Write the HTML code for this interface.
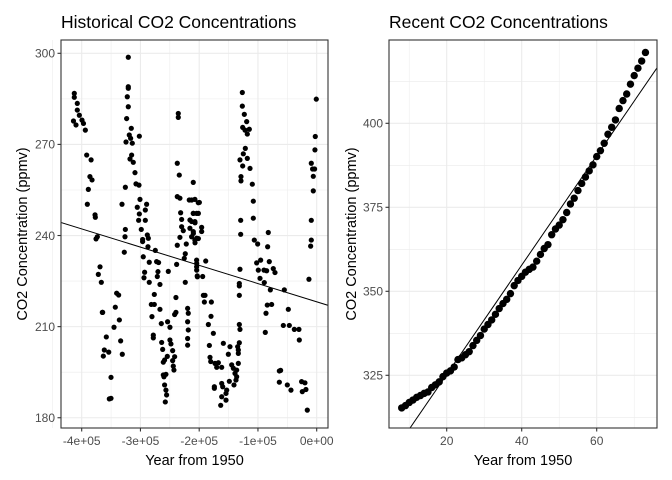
<!DOCTYPE html>
<html><head><meta charset="utf-8"><style>
html,body{margin:0;padding:0;background:#fff;}
svg{display:block;font-family:"Liberation Sans",Arial,sans-serif;}
</style></head><body>
<svg id="chart" width="672" height="480" viewBox="0 0 672 480">
<defs>
<clipPath id="clipL"><rect x="61" y="40" width="267" height="388"/></clipPath>
<clipPath id="clipR"><rect x="389" y="40" width="268" height="388"/></clipPath>
</defs>
<g id="gL"></g>
<g id="gR"></g>
</svg>
<script>
// Historical data (years before 1950, in thousands) and CO2 ppmv
const histYearK = [-412.6,-412.6,-407.5,-407.5,-404,-414,-409.7,-399.5,-397,-393.8,
-391.5,-384,-386,-382.4,-388.7,-390.4,-377.3,-376.8,-373.4,-375.6,-368.8,-371.7,-366.6,-364.9,-358.1,-361.5,-363.2,-354,-350.1,-353,-350.1,
-320.7,-320.7,-320.7,-322.4,-320.7,-323.5,-315.6,-319,-316.7,-324.6,-313.9,-301.9,-315,-317.8,-312.2,-309.3,-325.7,-307.6,-302.5,-331.4,-300.8,-305.4,-289.5,-291.7,-301.9,-303.1,-291.7,-325.7,-298.6,-326.3,-296.3,-296.3,-288.3,-286.6,-327.5,-287.2,-295.2,-285,-272.5,-269.1,-274.7,-292.9,-270.2,-294,-271.3,-285,-266.8,
-340.5,-337.1,-342.8,-335.9,-345,-333.7,-330.9,-364.3,-276.4,-252.6,-281.5,-276.4,-266.8,-280.4,-264.5,-253.8,-249.8,-278.1,-278.1,-263.9,-249.8,-248.1,-262.2,-245.2,-254.3,-258.9,-261.1,-241.8,-245.2,-244.1,-243,-261.1,-256.6,-260,-258.9,-256.6,-255.5,-257.7,
-239.6,-241.8,-239.6,-238.4,-237.3,-223.7,-225.4,-222,-223.7,-235.6,-235.6,-237.3,-233.9,-237.3,-232.8,-210.1,-216.9,-207.3,-201.6,
-231.6,-210.1,-204.4,-229.9,-215.8,-207.3,-229.9,-215.8,-210.1,-227.1,-212.9,-207.3,-232.8,-219.7,-218.6,-219.7,-218.6,-219.7,-219.7,-204.4,-204.4,-203.3,
-212.8,-199.7,-209.9,-201.4,-212.8,-207.1,-195.8,-195.8,-209.9,-204.3,-207.1,-201.4,-188.9,-204.3,-204.3,-203.1,-194.1,
-192.9,-190.1,-191.2,-179.3,-179.9,-184.4,-175.9,
-182.7,-181.6,-180.4,-173.1,-167.4,-170.2,-161.7,-158.9,-150.4,-147.6,-174.2,-174.2,-161.7,-160,-153.2,-154.4,-161.7,-154.4,-163.4,-148.7,
-144.7,-141.9,-139.1,-136.2,-137.4,-140.8,-136.2,-133.4,-133.4,-134.5,-131.7,-133.4,-130.6,-131.7,-131.7,-131.7,-131.7,-130.6,-129.4,-129.4,
-126.6,-126.6,-123.2,-119.2,-126,-122,-118.1,-114.7,-121.5,-124.9,-118.1,-130.6,-126,-113.5,-128.9,-128.9,-109.6,-107.9,-107.9,-106.2,-100.5,-102.2,-95.4,-99.4,-96.5,-89.7,-85.2,-80.7,-73.9,-71,-89.2,-78.9,-83.5,-82.4,-84.1,-76.7,-86.3,-87.5,
-55.1,-48.3,-56.8,-46.6,-38.1,-30.2,-29.6,
-63.6,-61.4,-63.6,-50,-43.8,-25.7,-20,-24.5,-18.3,-16,
-0.7,-2.4,-3,-9.2,-7,-3.6,-5.8,-5.8,-9.2,-9.2,-10.3,-13.2];
const histCO2 = [286.8,285.5,283.5,281.3,279.6,277.7,276.4,278,276.9,274.7,
266.5,264.9,259.4,258.3,255.2,250.3,246.8,246,239.6,238.9,229.7,227.2,224.6,214.7,206.6,202.3,200.3,201.6,193.3,186.2,186.4,
298.7,289,288.5,285.7,282.4,278.5,275.3,273.1,272,270.8,270.4,272.7,266.5,265.2,264.1,260.7,255.9,257,256.6,250.3,251.9,249.3,250.3,248.4,247.1,245,245,242,242,239.6,238.7,238,240.2,239.1,234.5,236.3,233,231.2,231.4,231.1,235.1,227.9,228.1,226.1,226.5,224.6,223.9,
221,220.4,216.4,212.2,209.8,205.3,200.9,214.7,220.6,228.2,217.3,217.3,215.7,213.3,211,211.6,209.8,207.2,206.3,204.8,205.6,204.3,202.5,202.1,200.2,199,198.3,200.1,198.8,197,195.7,194.1,194.3,193.5,190.8,189.1,187.5,185.2,
214.7,214,219.6,230.5,236.8,234,232.5,237.2,224.6,280.2,278.9,263.8,259.9,252.8,252.3,257.5,251.7,251.9,250.8,
247.5,247.3,247.3,245.3,245.1,244.6,242.9,242.4,241.3,241.6,239.6,238.5,239.4,216,214.4,211.6,208.9,206.1,203.9,231.9,229.7,226.7,
251.7,250.9,247.3,247.3,244.6,244.2,242.7,241.3,240.7,239.1,237.6,239,231.6,230.8,228.6,226.4,226.5,
220.3,220.3,218.1,218.1,213.4,210.7,207.8,
203.8,199.9,198.5,197.9,198.1,196.6,196.6,204.5,200.9,203.4,190.2,189.7,191.3,190.2,189.1,188,186.9,185.8,184.1,192,
197.4,196.3,194.6,193.5,192.4,190.8,195.7,197.9,201.2,203.4,204.7,202.3,209.1,210.7,220.3,223.4,224.2,228.9,240.4,245,
287.1,282.6,279.9,277.5,275.6,274.7,273.4,275,268.7,266.9,265.4,264.9,262.9,262.1,259.4,258,256.9,251.3,245.7,238.5,237.2,231,231.9,228.6,225.9,228.6,228.4,231.4,229.1,227.8,224.5,222.1,236.3,241,217.1,217.3,214.4,208.1,
222.1,215.7,210.4,210.4,209.1,209.1,205.6,
195.4,195.6,191.7,190.8,189.1,191.9,191.5,188.6,189.3,182.5,
284.9,272.6,268.2,263.8,261.9,261.9,259.5,254.7,245,238.5,236.5,225.6];
const histXTicks = [-400000,-300000,-200000,-100000,0];
const histXTickLabels = ["-4e+05","-3e+05","-2e+05","-1e+05","0e+00"];
const histYTicks = [180,210,240,270,300];

// Recent data: years from 1950, CO2 ppmv
const recentYear = [];
for (let y = 8; y <= 73; y++) recentYear.push(y);
const recentCO2 = [315.3,315.98,316.91,317.64,318.45,318.99,319.62,320.04,321.37,322.18,323.05,324.62,325.68,326.32,327.46,329.68,330.19,331.12,332.03,333.84,335.41,336.84,338.76,340.12,341.48,343.15,344.87,346.35,347.61,349.31,351.69,353.2,354.45,355.7,356.54,357.21,358.96,360.97,362.74,363.88,366.84,368.54,369.71,371.32,373.45,375.98,377.7,379.98,382.09,384.02,385.83,387.64,390.1,391.85,394.06,396.74,398.81,401.01,404.41,406.76,408.72,411.65,414.21,416.41,418.53,421.08];
const recentXTicks = [20,40,60];
const recentYTicks = [325,350,375,400];

const NS = "http://www.w3.org/2000/svg";
function mk(tag, attrs, parent){const e=document.createElementNS(NS,tag);for(const k in attrs)e.setAttribute(k,attrs[k]);parent.appendChild(e);return e;}
function fit(xs, ys){const n=xs.length;let mx=0,my=0;for(let i=0;i<n;i++){mx+=xs[i];my+=ys[i];}mx/=n;my/=n;let sxy=0,sxx=0;for(let i=0;i<n;i++){sxy+=(xs[i]-mx)*(ys[i]-my);sxx+=(xs[i]-mx)**2;}const b=sxy/sxx;return {a:my-b*mx,b:b};}

function panel(g, o){
  const {x0,x1,y0,y1,sx,sy,xt,xtl,yt,xMinor,yMinor,xs,ys,clip,title,r} = o;
  xMinor.forEach(v=>{const l=mk("line",{x1:sx(v),x2:sx(v),y1:y0,y2:y1,stroke:"#ebebeb","stroke-width":0.55},g);});
  yMinor.forEach(v=>{const l=mk("line",{x1:x0,x2:x1,y1:sy(v),y2:sy(v),stroke:"#ebebeb","stroke-width":0.55},g);});
  xt.forEach(v=>{const l=mk("line",{x1:sx(v),x2:sx(v),y1:y0,y2:y1,stroke:"#ebebeb","stroke-width":1.1},g);});
  yt.forEach(v=>{const l=mk("line",{x1:x0,x2:x1,y1:sy(v),y2:sy(v),stroke:"#ebebeb","stroke-width":1.1},g);});
  const pg = mk("g",{"clip-path":"url(#"+clip+")"},g);
  for(let i=0;i<xs.length;i++){
    const c=mk("circle",{cx:sx(xs[i]),cy:sy(ys[i]),r:r,fill:"#000"},pg);
    
    
  }
  const f=fit(xs,ys);
  const xa=o.xDomain[0], xb=o.xDomain[1];
  const ln=mk("line",{x1:sx(xa),y1:sy(f.a+f.b*xa),x2:sx(xb),y2:sy(f.a+f.b*xb),stroke:"#000","stroke-width":1},pg);
  
  
  const b=mk("rect",{x:x0,y:y0,width:x1-x0,height:y1-y0,fill:"none",stroke:"#333","stroke-width":1.1},g);
  
  
  xt.forEach((v,i)=>{
    const t=mk("line",{x1:sx(v),x2:sx(v),y1:y1,y2:y1+3.5,stroke:"#333","stroke-width":1.1},g);
    
    
    const tx=mk("text",{x:sx(v),y:y1+17,"text-anchor":"middle","font-size":"12",fill:"#4d4d4d"},g);
    tx.textContent=xtl[i];
    
    
  });
  yt.forEach(v=>{
    const t=mk("line",{x1:x0-3.5,x2:x0,y1:sy(v),y2:sy(v),stroke:"#333","stroke-width":1.1},g);
    
    
    const tx=mk("text",{x:x0-6,y:sy(v)+4.3,"text-anchor":"end","font-size":"12",fill:"#4d4d4d"},g);
    tx.textContent=String(v);
    
    
  });
  const ti=mk("text",{x:x0,y:28,"font-size":"17.5",fill:"#000"},g);
  ti.textContent=title;
  
  
  const xl=mk("text",{x:(x0+x1)/2,y:465,"text-anchor":"middle","font-size":"14.5",fill:"#000"},g);
  xl.textContent="Year from 1950";
  
  
  const yx=o.yTitleX, yy=(y0+y1)/2;
  const yl=mk("text",{x:yx,y:yy,"text-anchor":"middle","font-size":"14.5",fill:"#000",transform:"rotate(-90 "+yx+" "+yy+")"},g);
  yl.textContent="CO2 Concentration (ppmv)";
  
  
}

const histYears = histYearK.map(v=>v*1000);
panel(document.getElementById("gL"),{
  x0:61,x1:328,y0:40,y1:428,
  sx:v=>316.7+v/100000*58.75, sy:v=>53.3+(300-v)*3.037,
  xt:histXTicks, xtl:histXTickLabels, yt:histYTicks,
  xMinor:[-450000,-350000,-250000,-150000,-50000], yMinor:[195,225,255,285],
  xs:histYears, ys:histCO2, clip:"clipL", title:"Historical CO2 Concentrations", r:2.6,
  xDomain:[-440000,20000], yTitleX:27
});
panel(document.getElementById("gR"),{
  x0:389,x1:657,y0:40,y1:428,
  sx:v=>371.7+v*3.75, sy:v=>123.3+(400-v)*3.36,
  xt:recentXTicks, xtl:recentXTicks.map(String), yt:recentYTicks,
  xMinor:[10,30,50,70], yMinor:[312.5,337.5,362.5,387.5,412.5],
  xs:recentYear, ys:recentCO2, clip:"clipR", title:"Recent CO2 Concentrations", r:3.7,
  xDomain:[4,78], yTitleX:356
});
</script>
</body></html>
